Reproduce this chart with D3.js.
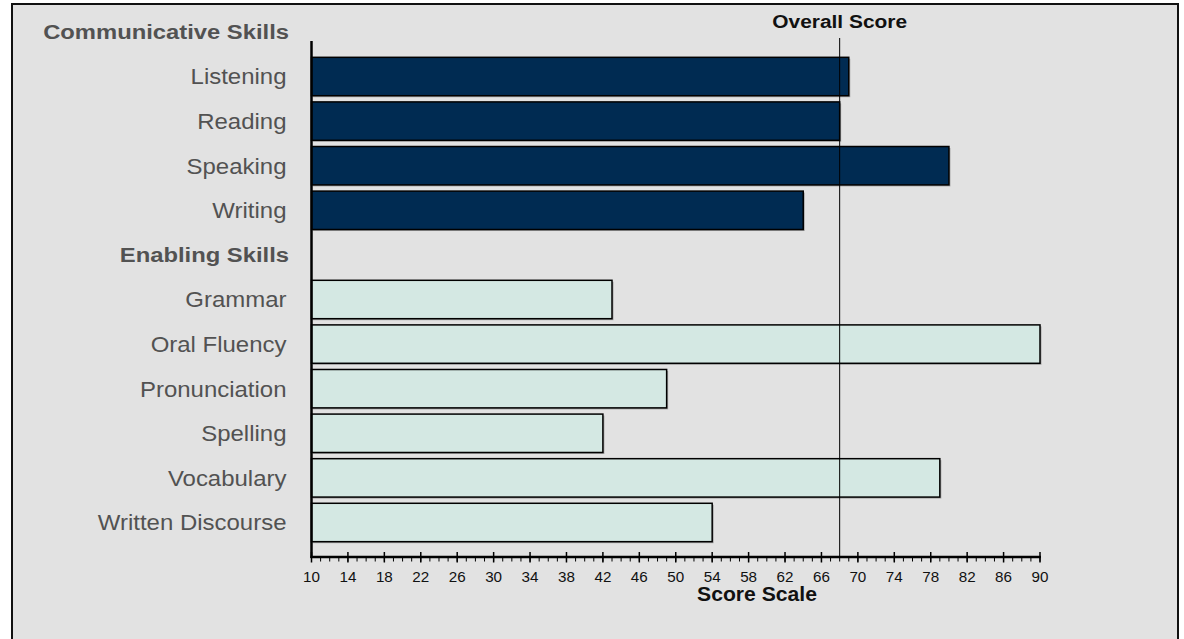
<!DOCTYPE html>
<html>
<head>
<meta charset="utf-8">
<script src="https://cdn.jsdelivr.net/npm/d3@7"></script>
<style>
	body { margin: 0; background: #fff; }
	svg { display: block; font-family: 'Liberation Sans', Arial, sans-serif; }
</style>
</head>
<body>
<svg width="1184" height="639"></svg>
<script>
// rows top to bottom, headers have no value
let rows = ['Communicative Skills', 'Listening', 'Reading', 'Speaking', 'Writing',
	'Enabling Skills', 'Grammar', 'Oral Fluency', 'Pronunciation', 'Spelling', 'Vocabulary', 'Written Discourse']
let headers = ['Communicative Skills', 'Enabling Skills']
let communicative = ['Listening', 'Reading', 'Speaking', 'Writing']
let communicativeScores = [69, 68, 80, 64]
let enabling = ['Grammar', 'Oral Fluency', 'Pronunciation', 'Spelling', 'Vocabulary', 'Written Discourse']
let enablingScores = [43, 90, 49, 42, 79, 54]
let overallScore = 68
let scaleDomain = [10, 90]

let svg = d3.select('svg')

// panel
svg.append('rect')
	.attr('x', 12).attr('y', 4)
	.attr('width', 1166).attr('height', 660)
	.attr('fill', '#e2e2e2')
	.attr('stroke', '#111')
	.attr('stroke-width', 2)

let xScale = d3.scaleLinear().domain(scaleDomain).range([311.5, 1040])
let yScale = d3.scaleBand().domain(rows).range([9.6, 544.8])
	.paddingInner(0.139).paddingOuter(0.07)

let bars = communicative.map((k, i) => ({ name: k, value: communicativeScores[i], fill: '#002b52' }))
	.concat(enabling.map((k, i) => ({ name: k, value: enablingScores[i], fill: '#d4e8e3' })))

let barG = svg.append('g')

// soft shadow behind each bar
barG.selectAll('rect.shadow')
	.data(bars)
	.enter()
	.append('rect')
	.attr('class', 'shadow')
	.attr('x', xScale(scaleDomain[0]) + 1.5)
	.attr('y', d => yScale(d.name) + 1.5)
	.attr('width', d => xScale(d.value) - xScale(scaleDomain[0]))
	.attr('height', yScale.bandwidth())
	.attr('fill', '#7a7a7a')
	.attr('opacity', 0.6)

barG.selectAll('rect.bar')
	.data(bars)
	.enter()
	.append('rect')
	.attr('class', 'bar')
	.attr('x', xScale(scaleDomain[0]))
	.attr('y', d => yScale(d.name))
	.attr('width', d => xScale(d.value) - xScale(scaleDomain[0]))
	.attr('height', yScale.bandwidth())
	.attr('fill', d => d.fill)
	.attr('stroke', '#000')
	.attr('stroke-width', 1.5)

// overall score line
svg.append('line')
	.attr('x1', xScale(overallScore)).attr('x2', xScale(overallScore))
	.attr('y1', 38).attr('y2', 557)
	.attr('stroke', '#000')
	.attr('stroke-width', 1)

// the original text is set a little wide, so stretch it horizontally
function wideText(g, x, y, sx) {
	return g.append('text')
		.attr('transform', `translate(${x}, ${y}) scale(${sx}, 1)`)
}

wideText(svg, xScale(overallScore), 28, 1.1)
	.attr('text-anchor', 'middle')
	.attr('font-size', 19)
	.attr('font-weight', 'bold')
	.attr('fill', '#111')
	.text('Overall Score')

// category labels
let labelG = svg.append('g')
rows.forEach(d => {
	let isHeader = headers.includes(d)
	wideText(labelG, isHeader ? 289 : 286.5, yScale(d) + yScale.bandwidth() / 2, isHeader ? 1.19 : 1.09)
		.attr('dy', '0.36em')
		.attr('text-anchor', 'end')
		.attr('font-size', isHeader ? 20 : 22)
		.attr('font-weight', isHeader ? 'bold' : 'normal')
		.attr('fill', '#525252')
		.text(d)
})

// vertical axis line
svg.append('line')
	.attr('x1', 311.5).attr('x2', 311.5)
	.attr('y1', 41).attr('y2', 558)
	.attr('stroke', '#000')
	.attr('stroke-width', 2.5)

// bottom axis: minor ticks every 1, major every 4
let axisY = 557
let axisG = svg.append('g').attr('transform', `translate(0, ${axisY})`)

axisG.append('line')
	.attr('x1', xScale(10) - 1).attr('x2', xScale(90) + 1)
	.attr('stroke', '#000').attr('stroke-width', 2.5)

axisG.selectAll('line.minor')
	.data(d3.range(10, 91, 1))
	.enter()
	.append('line')
	.attr('class', 'minor')
	.attr('x1', d => xScale(d)).attr('x2', d => xScale(d))
	.attr('y1', 0).attr('y2', 4.5)
	.attr('stroke', '#000').attr('stroke-width', 1)

let majorTicks = d3.range(10, 91, 4)
axisG.selectAll('line.major')
	.data(majorTicks)
	.enter()
	.append('line')
	.attr('class', 'major')
	.attr('x1', d => xScale(d)).attr('x2', d => xScale(d))
	.attr('y1', -5).attr('y2', 5.5)
	.attr('stroke', '#000').attr('stroke-width', 1.5)

majorTicks.forEach(d => {
	wideText(axisG, xScale(d), 25, 1.05)
		.attr('text-anchor', 'middle')
		.attr('font-size', 14.5)
		.attr('fill', '#111')
		.text(d)
})

wideText(svg, 757, 601, 1.085)
	.attr('text-anchor', 'middle')
	.attr('font-size', 19.5)
	.attr('font-weight', 'bold')
	.attr('fill', '#111')
	.text('Score Scale')
</script>
</body>
</html>
